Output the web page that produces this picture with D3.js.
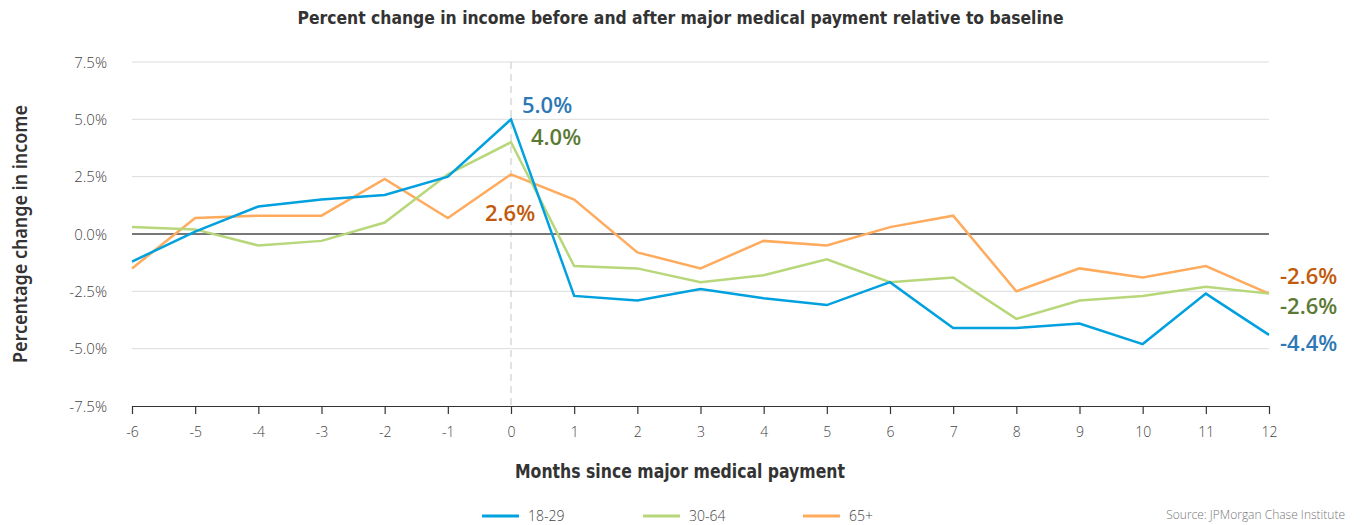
<!DOCTYPE html>
<html>
<head>
<meta charset="utf-8">
<script src="https://cdn.jsdelivr.net/npm/d3@7"></script>
<style>
  html, body { margin: 0; padding: 0; background: #fff; }
  svg { display: block; }
</style>
</head>
<body>
<svg id="chart" width="1361" height="525"></svg>
<script>
// ---- data ----
const months = [-6, -5, -4, -3, -2, -1, 0, 1, 2, 3, 4, 5, 6, 7, 8, 9, 10, 11, 12];
const age18_29 = [-1.2, 0.1, 1.2, 1.5, 1.7, 2.5, 5.0, -2.7, -2.9, -2.4, -2.8, -3.1, -2.1, -4.1, -4.1, -3.9, -4.8, -2.6, -4.4];
const age30_64 = [0.3, 0.2, -0.5, -0.3, 0.5, 2.6, 4.0, -1.4, -1.5, -2.1, -1.8, -1.1, -2.1, -1.9, -3.7, -2.9, -2.7, -2.3, -2.6];
const age65plus = [-1.5, 0.7, 0.8, 0.8, 2.4, 0.7, 2.6, 1.5, -0.8, -1.5, -0.3, -0.5, 0.3, 0.8, -2.5, -1.5, -1.9, -1.4, -2.6];
const yTicks = [-7.5, -5.0, -2.5, 0.0, 2.5, 5.0, 7.5];
const seriesNames = ["18-29", "30-64", "65+"];

const lineColors = ["#00a1de", "#b7d77a", "#ffab5e"];
const labelColors = ["#2d78b5", "#5b7a34", "#c2590b"];

const series = [
  { name: seriesNames[0], values: age18_29, color: lineColors[0], label: labelColors[0] },
  { name: seriesNames[1], values: age30_64, color: lineColors[1], label: labelColors[1] },
  { name: seriesNames[2], values: age65plus, color: lineColors[2], label: labelColors[2] }
];

const svg = d3.select("#chart");
const x = d3.scaleLinear().domain([-6, 12]).range([132, 1269]);
const y = d3.scaleLinear().domain([-7.5, 7.5]).range([406, 62]);

const condensed = "'DejaVu Sans Condensed', 'DejaVu Sans', sans-serif";
const light = "'Open Sans', 'Noto Sans', sans-serif";
const fmt = v => d3.format(".1f")(v).replace("\u2212", "-") + "%";

// title
svg.append("text")
  .attr("x", 680.5).attr("y", 24)
  .attr("text-anchor", "middle")
  .attr("font-family", condensed).attr("font-weight", "bold")
  .attr("font-size", 17).attr("fill", "#333")
  .attr("textLength", 766).attr("lengthAdjust", "spacingAndGlyphs")
  .text("Percent change in income before and after major medical payment relative to baseline");

// gridlines
svg.append("g").selectAll("line")
  .data(yTicks.filter(d => d !== 0 && d !== -7.5))
  .join("line")
  .attr("x1", x(-6)).attr("x2", x(12))
  .attr("y1", d => y(d)).attr("y2", d => y(d))
  .attr("stroke", "#dcdcdc").attr("stroke-width", 1);

// dashed line at month 0
svg.append("line")
  .attr("x1", x(0)).attr("x2", x(0))
  .attr("y1", y(7.5)).attr("y2", y(-7.5))
  .attr("stroke", "#cfcfcf").attr("stroke-width", 1.2)
  .attr("stroke-dasharray", "7,5");

// zero line
svg.append("line")
  .attr("x1", x(-6)).attr("x2", x(12))
  .attr("y1", y(0)).attr("y2", y(0))
  .attr("stroke", "#4a4a4a").attr("stroke-width", 1.3);

// y tick labels
const yAxis = d3.axisLeft(y).tickValues(yTicks).tickSize(0).tickPadding(0)
  .tickFormat(fmt);
const gy = svg.append("g").attr("transform", `translate(107,0)`).call(yAxis);
gy.select(".domain").remove();
gy.selectAll("text")
  .attr("font-family", light).attr("font-weight", 300)
  .attr("font-size", 15).attr("fill", "#444")
  .attr("dy", null).attr("y", 5);

// x axis
const xAxis = d3.axisBottom(x).tickValues(months).tickSize(8).tickSizeOuter(0)
  .tickFormat(d => String(d));
const gx = svg.append("g").attr("transform", `translate(0,${y(-7.5)})`).call(xAxis);
gx.select(".domain").attr("stroke", "#333").attr("stroke-width", 1.2);
gx.selectAll(".tick line").attr("stroke", "#333").attr("stroke-width", 1.2);
gx.selectAll("text")
  .attr("font-family", light).attr("font-weight", 300)
  .attr("font-size", 14).attr("fill", "#444")
  .attr("dy", null).attr("y", 31);

// axis titles
svg.append("text")
  .attr("x", 680).attr("y", 478)
  .attr("text-anchor", "middle")
  .attr("font-family", condensed).attr("font-weight", "bold")
  .attr("font-size", 19).attr("fill", "#333")
  .attr("textLength", 330).attr("lengthAdjust", "spacingAndGlyphs")
  .text("Months since major medical payment");

svg.append("text")
  .attr("transform", "translate(27,234) rotate(-90)")
  .attr("text-anchor", "middle")
  .attr("font-family", "'Noto Sans', 'Open Sans', sans-serif").attr("font-weight", 600)
  .attr("font-size", 19).attr("fill", "#333")
  .attr("textLength", 258).attr("lengthAdjust", "spacingAndGlyphs")
  .text("Percentage change in income");

// lines
const line = d3.line().x((d, i) => x(months[i])).y(d => y(d));
svg.append("g").selectAll("path")
  .data([series[2], series[1], series[0]])
  .join("path")
  .attr("d", d => line(d.values))
  .attr("fill", "none")
  .attr("stroke", d => d.color)
  .attr("stroke-width", 2.5)
  .attr("stroke-linejoin", "miter");

// value annotations
const i0 = months.indexOf(0);
const iEnd = months.length - 1;
const annotations = [
  { s: 0, i: i0, dx: 11, dy: -6 },
  { s: 1, i: i0, dx: 20, dy: 3 },
  { s: 2, i: i0, dx: -26, dy: 47 },
  { s: 2, i: iEnd, dx: 11, dy: -10 },
  { s: 1, i: iEnd, dx: 11, dy: 20 },
  { s: 0, i: iEnd, dx: 11, dy: 16 }
];
svg.append("g").selectAll("text")
  .data(annotations)
  .join("text")
  .attr("x", d => x(months[d.i]) + d.dx)
  .attr("y", d => y(series[d.s].values[d.i]) + d.dy)
  .attr("font-family", "'Open Sans', 'Noto Sans', sans-serif")
  .attr("font-weight", 600)
  .attr("font-size", 22)
  .attr("fill", d => series[d.s].label)
  .text(d => fmt(series[d.s].values[d.i]));

// legend
const legendX = [482, 643, 803];
const lg = svg.append("g").selectAll("g").data(series).join("g")
  .attr("transform", (d, i) => `translate(${legendX[i]},516)`);
lg.append("line").attr("x1", 0).attr("x2", 37).attr("y1", 0).attr("y2", 0)
  .attr("stroke", d => d.color).attr("stroke-width", 3);
lg.append("text").attr("x", 46).attr("y", 5)
  .attr("font-family", light).attr("font-weight", 300)
  .attr("font-size", 14).attr("fill", "#444")
  .text(d => d.name);

// source
svg.append("text")
  .attr("x", 1345).attr("y", 519)
  .attr("text-anchor", "end")
  .attr("font-family", light).attr("font-weight", 300)
  .attr("font-size", 12).attr("fill", "#777")
  .text("Source: JPMorgan Chase Institute");
</script>
</body>
</html>
